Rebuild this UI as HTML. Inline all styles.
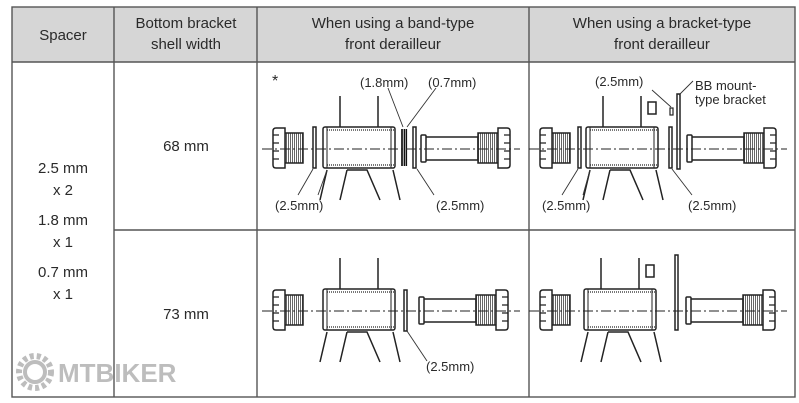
<!DOCTYPE html>
<html><head><meta charset="utf-8"><style>
html,body{margin:0;padding:0;background:#fff;}
svg{display:block;}
text{font-family:"Liberation Sans",Arial,sans-serif;fill:#2a2a2a;}
</style></head><body>
<svg width="799" height="403" viewBox="0 0 799 403" xmlns="http://www.w3.org/2000/svg">
<defs>
<pattern id="th" width="2" height="4" patternUnits="userSpaceOnUse"><rect width="2" height="4" fill="#fff"/><rect width="1" height="4" fill="#666"/></pattern>
<g id="lcup" fill="#fff" stroke="#222" stroke-width="1.5">
  <rect x="285" y="-16" width="18" height="30" fill="url(#th)"/>
  <path d="M276 -21 H285 V19 H276 Q273 19 273 16 V-18 Q273 -21 276 -21Z"/>
  <path d="M273 -14 h6 M273 -6 h6 M273 2 h6 M273 10 h6" stroke-width="1.2"/>
</g>
<g id="rcup" fill="#fff" stroke="#222" stroke-width="1.5">
  <rect x="425" y="-12" width="53" height="23"/>
  <rect x="421" y="-14" width="5" height="27" rx="1"/>
  <rect x="478" y="-16" width="20" height="30" fill="url(#th)"/>
  <path d="M498 -21 H507 Q510 -21 510 -18 V16 Q510 19 507 19 H498Z"/>
  <path d="M504 -14 h6 M504 -6 h6 M504 2 h6 M504 10 h6" stroke-width="1.2"/>
</g>
<g id="shell" fill="none" stroke="#222" stroke-width="1.5">
  <path d="M340 -53 V-22 M378 -53 V-22"/>
  <rect x="323" y="-22" width="72" height="41" rx="2" fill="#fff"/>
  <path d="M327 -19 H395 M327 16 H395" stroke="#777" stroke-width="2" stroke-dasharray="1 1"/>
  <path d="M327 -22 V19 M391 -22 V19" stroke-width="1"/>
  <path d="M327 21 L320 51 M347 21 L340 51 M347 21 H367 L380 51 M393 21 L400 51"/>
</g>
<path id="cl" d="M262 0 H520" stroke="#222" stroke-width="1" stroke-dasharray="10 3 2 3" fill="none"/>
</defs>

<rect x="12" y="7" width="783" height="55" fill="#d6d6d6"/>
<g stroke="#555" stroke-width="1.4" fill="none">
<rect x="12" y="7" width="783" height="390"/>
<path d="M12 62 H795 M114 7 V397 M257 7 V397 M529 7 V397 M114 230 H795"/>
</g>
<g font-size="15" text-anchor="middle">
<text x="63" y="40">Spacer</text>
<text x="186" y="28">Bottom bracket</text><text x="186" y="49">shell width</text>
<text x="393" y="28">When using a band-type</text><text x="393" y="49">front derailleur</text>
<text x="662" y="28">When using a bracket-type</text><text x="662" y="49">front derailleur</text>
<text x="186" y="151">68 mm</text>
<text x="186" y="319">73 mm</text>
<text x="63" y="173">2.5 mm</text><text x="63" y="195">x 2</text>
<text x="63" y="225">1.8 mm</text><text x="63" y="247">x 1</text>
<text x="63" y="277">0.7 mm</text><text x="63" y="299">x 1</text>
</g>

<g transform="translate(0,149)">
<use href="#shell"/><use href="#lcup"/><use href="#rcup"/>
<g fill="#fff" stroke="#222" stroke-width="1.5">
<rect x="313" y="-22" width="3" height="41"/>
<rect x="413" y="-22" width="3" height="41"/>
</g>
<path d="M402 -20 V17 M404.5 -20 V17" stroke="#111" stroke-width="1.7"/>
<path d="M406.5 -20 V17" stroke="#111" stroke-width="1.2"/>
<use href="#cl"/>
<g stroke="#333" stroke-width="0.9" fill="none">
<path d="M313 20 L298 46 M327 21 L318 46 M388 -61 L403 -22 M436 -61 L407 -22 M417 20 L434 46"/>
</g>
</g>
<g font-size="13">
<text x="272" y="86" font-size="16">*</text>
<text x="360" y="87">(1.8mm)</text><text x="428" y="87">(0.7mm)</text>
<text x="275" y="210">(2.5mm)</text><text x="436" y="210">(2.5mm)</text>
</g>

<g transform="translate(0,311)">
<use href="#shell"/><use href="#lcup"/><use href="#rcup" transform="translate(-2,0)"/>
<rect x="404" y="-21" width="3" height="41" fill="#fff" stroke="#222" stroke-width="1.5"/>
<use href="#cl"/>
<path d="M407 20 L427 50" stroke="#333" stroke-width="0.9"/>
</g>
<text x="426" y="371" font-size="13">(2.5mm)</text>

<g transform="translate(267,149)">
<use href="#shell" transform="translate(-4,0)"/><use href="#lcup"/><use href="#rcup" transform="translate(-1,0)"/>
<g fill="#fff" stroke="#222" stroke-width="1.5">
<rect x="311" y="-22" width="3" height="41"/>
<rect x="402" y="-22" width="3" height="41"/>
<rect x="403" y="-41" width="3" height="7" stroke-width="1.2"/>
<rect x="410" y="-55" width="3" height="75"/>
<rect x="381" y="-47" width="8" height="12"/>
</g>
<use href="#cl"/>
<g stroke="#333" stroke-width="0.9" fill="none">
<path d="M311 20 L295 46 M323 21 L316 46 M385 -59 L404 -42 M426 -68 L412 -54 M405 20 L425 46"/>
</g>
</g>
<g font-size="13">
<text x="595" y="86">(2.5mm)</text>
<text x="695" y="90">BB mount-</text><text x="695" y="104">type bracket</text>
<text x="542" y="210">(2.5mm)</text><text x="688" y="210">(2.5mm)</text>
</g>

<g transform="translate(267,311)">
<use href="#shell" transform="translate(-6,0)"/><use href="#lcup"/><use href="#rcup" transform="translate(-2,0)"/>
<g fill="#fff" stroke="#222" stroke-width="1.5">
<rect x="408" y="-56" width="3" height="75"/>
<rect x="379" y="-46" width="8" height="12"/>
</g>
<use href="#cl"/>
</g>

<g opacity="0.55">
<circle cx="35" cy="372" r="16" fill="none" stroke="#888" stroke-width="6" stroke-dasharray="4 3"/>
<circle cx="35" cy="372" r="10" fill="none" stroke="#888" stroke-width="4"/>
<text x="58" y="382" font-size="26" font-weight="bold" style="fill:#888">MTBIKER</text>
</g>
</svg>
</body></html>
